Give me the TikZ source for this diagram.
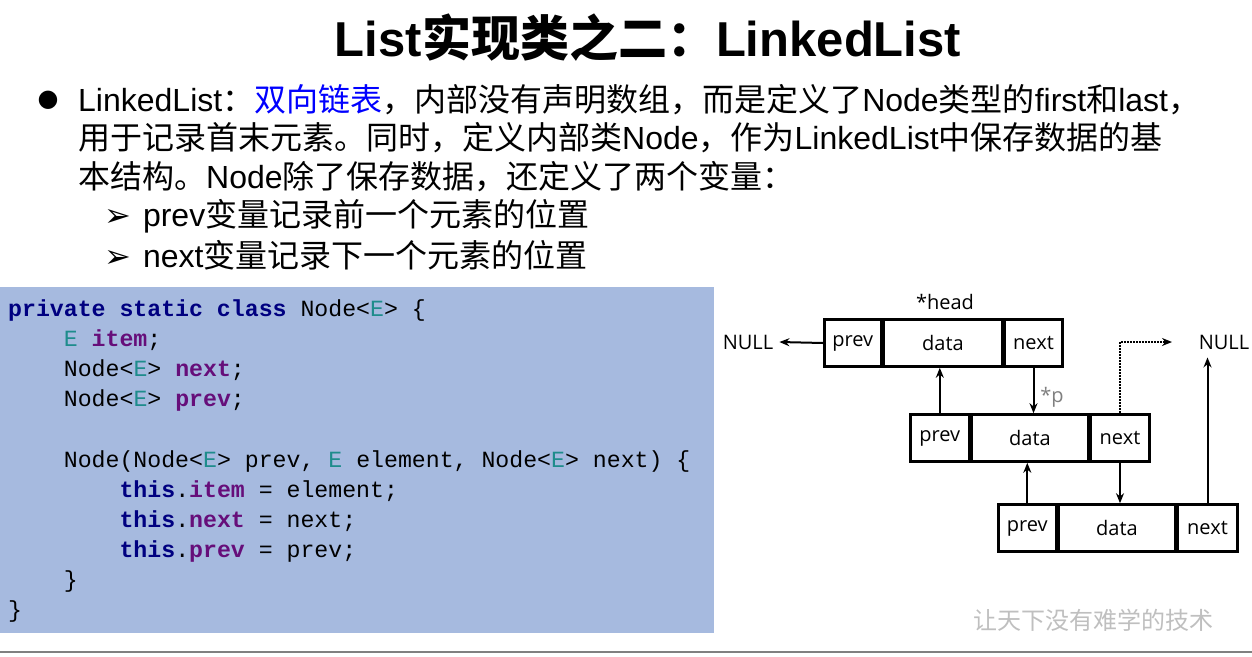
\documentclass[tikz,border=0pt]{standalone}
\usetikzlibrary{arrows.meta}
\usepackage{fontspec}
\setmainfont{Liberation Sans}
\newfontfamily\codefont{Liberation Mono}
\newfontfamily\diafont{Open Sans}
\newfontfamily\cjk{Noto Sans CJK SC}
\newfontfamily\dv{DejaVu Sans}
\newcommand{\C}[1]{{\cjk #1}}
\definecolor{codebg}{HTML}{A6BADF}
\definecolor{kw}{HTML}{000080}
\definecolor{ty}{HTML}{1E8C8C}
\definecolor{fld}{HTML}{660E7A}
\newcommand{\kw}[1]{\textcolor{kw}{\bfseries #1}}
\newcommand{\ty}[1]{\textcolor{ty}{#1}}
\newcommand{\fld}[1]{\textcolor{fld}{\bfseries #1}}
\begin{document}
\begin{tikzpicture}[x=1pt,y=-1pt,
  txt/.style={anchor=west,inner sep=0,font=\fontsize{32}{34}\selectfont},
  code/.style={anchor=west,inner sep=0,font=\codefont\fontsize{23.2}{28}\selectfont},
  cell/.style={draw,line width=2.6pt,minimum height=47pt,inner sep=0,font=\diafont\fontsize{20}{22}\selectfont},
  arr/.style={-{Stealth[length=10pt,width=8pt]},line width=2pt},
  lbl/.style={inner sep=0,font=\diafont\fontsize{20}{22}\selectfont}]
\useasboundingbox (0,0) rectangle (1252,656);
\fill[white] (0,0) rectangle (1252,656);
\node[inner sep=0,font=\bfseries\fontsize{49}{52}\selectfont] (title) at (648,38) {List\C{实现类之二：}LinkedList};
\node[inner sep=0,font=\dv\fontsize{24}{24}\selectfont] (b1) at (48,100) {●};
\node[txt] (l1) at (78,100) {LinkedList\C{：\textcolor{blue}{双向链表}，内部没有声明数组，而是定义了}Node\C{类型的}first\C{和}last\C{，}};
\node[txt] (l2) at (78,138) {\C{用于记录首末元素。同时，定义内部类}Node\C{，作为}LinkedList\C{中保存数据的基}};
\node[txt] (l3) at (78,177) {\C{本结构。}Node\C{除了保存数据，还定义了两个变量：}};
\node[txt] (s1) at (104,216) {{\dv\bfseries ➢}\hspace{12pt}prev\C{变量记录前一个元素的位置}};
\node[txt] (s2) at (104,255) {{\dv\bfseries ➢}\hspace{12pt}next\C{变量记录下一个元素的位置}};
% code
\fill[codebg] (0,287) rectangle (714,633);
\node[code] (c1) at (8,310) {\kw{private static class} Node<\ty{E}> \{};
\node[code] (c2) at (8,340) {\phantom{xxxx}\ty{E} \fld{item};};
\node[code] (c3) at (8,370) {\phantom{xxxx}Node<\ty{E}> \fld{next};};
\node[code] (c4) at (8,400) {\phantom{xxxx}Node<\ty{E}> \fld{prev};};
\node[code] (c5) at (8,461) {\phantom{xxxx}Node(Node<\ty{E}> prev, \ty{E} element, Node<\ty{E}> next) \{};
\node[code] (c6) at (8,491) {\phantom{xxxxxxxx}\kw{this}.\fld{item} = element;};
\node[code] (c7) at (8,521) {\phantom{xxxxxxxx}\kw{this}.\fld{next} = next;};
\node[code] (c8) at (8,551) {\phantom{xxxxxxxx}\kw{this}.\fld{prev} = prev;};
\node[code] (c9) at (8,581) {\phantom{xxxx}\}};
\node[code] (c10) at (8,611) {\}};
% diagram
\node[cell,minimum width=57pt,anchor=west] (p1) at (823,343) {prev};
\node[cell,minimum width=118pt,anchor=west] (d1) at (p1.east) {data};
\node[cell,minimum width=58pt,anchor=west] (n1) at (d1.east) {next};
\node[cell,minimum width=59pt,anchor=west] (p2) at (909,438) {prev};
\node[cell,minimum width=116pt,anchor=west] (d2) at (p2.east) {data};
\node[cell,minimum width=59pt,anchor=west] (n2) at (d2.east) {next};
\node[cell,minimum width=58pt,anchor=west] (p3) at (997,528) {prev};
\node[cell,minimum width=116pt,anchor=west] (d3) at (p3.east) {data};
\node[cell,minimum width=60pt,anchor=west] (n3) at (d3.east) {next};
\node[lbl] (head) at (945,302) {*head};
\node[lbl] (nullL) at (748,342) {NULL};
\node[lbl] (nullR) at (1224,342) {NULL};
\node[lbl,text=gray] (pp) at (1052,397) {*p};
\draw[arr] (p1.west) -- ([xshift=6pt]nullL.east);
\draw[arr] (p2.north) -- (p2.north |- d1.south);
\draw[arr] (n1.south) -- (n1.south |- d2.north);
\draw[arr] (p3.north) -- (p3.north |- d2.south);
\draw[arr] (n2.south) -- (n2.south |- d3.north);
\draw[arr] (n3.north) -- ([yshift=-8pt]n3.north |- nullR.south);
\coordinate (dend) at (1172,342);
\draw[arr,densely dotted] (n2.north) |- (dend);
\node[inner sep=0,text=black!25,font=\cjk\itshape\fontsize{24}{26}\selectfont] (wm) at (1093,620) {让天下没有难学的技术};
\draw[gray,line width=1.5pt] (0,652) -- (1252,652);
\end{tikzpicture}
\end{document}
